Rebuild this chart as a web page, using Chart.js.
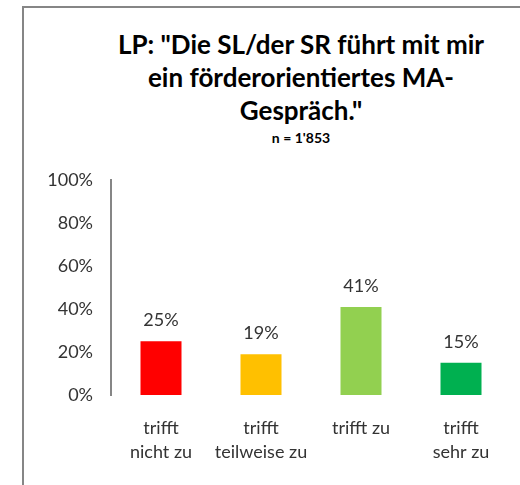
<!DOCTYPE html>
<html>
<head>
<meta charset="utf-8">
<script src="https://cdn.jsdelivr.net/npm/chart.js@4"></script>
<style>
  html, body { margin: 0; padding: 0; background: #fff; overflow: hidden; width: 520px; height: 485px; }
  #frame { position: absolute; left: 22px; top: 6px; width: 700px; height: 477px; border-left: 2px solid #868686; border-top: 2px solid #868686; }
  #head { position: absolute; left: 0; top: 28px; width: 602px; text-align: center; font-family: Lato, "Liberation Sans", sans-serif; color: #000; font-weight: bold; }
  #head .t { font-size: 26px; line-height: 33px; }
  #head .s { font-size: 14px; line-height: 17px; margin-top: 2px; }
  #wrap { position: absolute; left: 0; top: 150px; width: 602px; height: 335px; }
</style>
</head>
<body>
<div id="frame"></div>
<div id="head"><div class="t" id="title"></div><div class="s" id="sub"></div></div>
<div id="wrap"><canvas id="bars"></canvas></div>
<script>
// categories and values
var categories = [['trifft', 'nicht zu'], ['trifft', 'teilweise zu'], 'trifft zu', ['trifft', 'sehr zu']];
var percents = [25, 19, 41, 15];
var barColors = ['#ff0000', '#ffc000', '#92d050', '#00b050'];
var yTicks = [0, 20, 40, 60, 80, 100];

var titleLines = ['LP: "Die SL/der SR führt mit mir', 'ein förderorientiertes MA-', 'Gespräch."'];
var subTitle = "n = 1'853";

document.getElementById('title').innerHTML = titleLines.map(function(l) {
  return l.replace(/&/g, '&amp;').replace(/</g, '&lt;');
}).join('<br>');
document.getElementById('sub').textContent = subTitle;

Chart.defaults.font.family = 'Lato, "Liberation Sans", sans-serif';
Chart.defaults.color = '#333';

// value labels on top of the bars
var valueLabels = {
  id: 'valueLabels',
  afterDatasetsDraw: function(chart) {
    var ctx = chart.ctx;
    var meta = chart.getDatasetMeta(0);
    ctx.save();
    ctx.font = '18px Lato, "Liberation Sans", sans-serif';
    ctx.fillStyle = '#333';
    ctx.textAlign = 'center';
    ctx.textBaseline = 'middle';
    meta.data.forEach(function(bar, i) {
      ctx.fillText(percents[i] + '%', bar.x, bar.y - 21);
    });
    ctx.restore();
  }
};

new Chart(document.getElementById('bars'), {
  type: 'bar',
  data: {
    labels: categories,
    datasets: [{
      data: percents,
      backgroundColor: barColors,
      barPercentage: 0.41,
      categoryPercentage: 1
    }]
  },
  options: {
    responsive: true,
    maintainAspectRatio: false,
    animation: false,
    layout: { padding: { left: 0, right: 91, top: 30, bottom: 8 } },
    plugins: {
      legend: { display: false },
      tooltip: { enabled: false }
    },
    scales: {
      x: {
        grid: { display: false },
        border: { display: false },
        ticks: { font: { size: 18, lineHeight: 1.33 }, padding: 13, maxRotation: 0, autoSkip: false }
      },
      y: {
        min: 0,
        max: 100,
        afterFit: function(s) { s.width = 111; },
        afterBuildTicks: function(s) { s.ticks = yTicks.map(function(v) { return { value: v }; }); },
        grid: { display: false, drawTicks: false },
        border: { display: true, color: '#868686', width: 2 },
        ticks: { font: { size: 18 }, padding: 18, callback: function(v) { return v + '%'; } }
      }
    }
  },
  plugins: [valueLabels]
});
</script>
</body>
</html>
